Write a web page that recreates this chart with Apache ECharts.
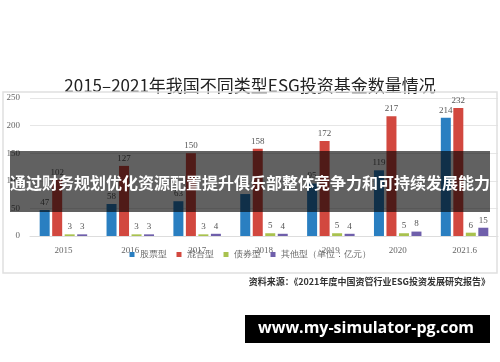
<!DOCTYPE html>
<html lang="zh-CN">
<head>
<meta charset="UTF-8">
<title>ESG投资基金数量</title>
<script src="https://cdn.jsdelivr.net/npm/echarts@6/dist/echarts.min.js"></script>
<style>
  body { margin: 0; padding: 0; background: #fff; }
  #main { width: 500px; height: 362px; }
</style>
</head>
<body>
<div id="main"></div>
<script>
// 数据
const years = ['2015', '2016', '2017', '2018', '2019', '2020', '2021.6'];
const seriesNames = ['股票型', '混合型', '债券型', '其他型（单位：亿元）'];
const stockFunds = [47, 58, 63, 76, 95, 119, 214];
const mixedFunds = [102, 127, 150, 158, 172, 217, 232];
const bondFunds = [3, 3, 3, 5, 5, 5, 6];
const otherFunds = [3, 3, 4, 4, 4, 8, 15];
const colors = ['#2a7fc1', '#d2483f', '#a9c24f', '#6f5fab'];

const chart = echarts.init(document.getElementById('main'));
const serif = 'Liberation Serif, serif';
const cjk = '"Noto Sans CJK SC", sans-serif';

const allData = [stockFunds, mixedFunds, bondFunds, otherFunds];
const series = allData.map((d, i) => ({
    name: seriesNames[i],
    type: 'bar',
    data: d,
    barWidth: 10,
    barGap: '25%',
    itemStyle: { color: colors[i] },
    label: {
        show: true,
        position: 'top',
        distance: 3,
        fontFamily: serif,
        fontSize: 9,
        color: '#555'
    }
}));

const option = {
    backgroundColor: '#fff',
    animation: false,
    title: {
        text: '2015–2021年我国不同类型ESG投资基金数量情况',
        left: 'center',
        top: 72,
        textStyle: { fontFamily: cjk, fontSize: 17, fontWeight: 'normal', color: '#222' }
    },
    legend: {
        bottom: 98,
        left: 'center',
        itemWidth: 5,
        itemHeight: 5,
        itemGap: 10,
        icon: 'rect',
        textStyle: { fontFamily: serif, fontSize: 9, color: '#666' },
        data: seriesNames
    },
    grid: { left: 30, right: 2, top: 98, bottom: 126 },
    xAxis: {
        type: 'category',
        data: years,
        axisLine: { lineStyle: { color: '#ddd' } },
        axisTick: { show: false },
        axisLabel: { fontFamily: serif, fontSize: 9, color: '#666', margin: 10 }
    },
    yAxis: {
        type: 'value',
        min: 0,
        max: 250,
        interval: 50,
        axisLabel: { fontFamily: serif, fontSize: 9, color: '#666', margin: 10 },
        splitLine: { lineStyle: { color: '#e6e6e6' } }
    },
    series: series,
    graphic: [
        {
            type: 'rect', z: 50, silent: true,
            shape: { x: 3, y: 92, width: 494, height: 181 },
            style: { fill: 'none', stroke: '#e0e0e0', lineWidth: 1.5 }
        },
        {
            type: 'text', z: 50, right: 10, top: 277,
            style: {
                text: '资料来源：《2021年度中国资管行业ESG投资发展研究报告》',
                font: 'bold 9px "Noto Sans CJK SC", sans-serif',
                fill: '#333'
            }
        },
        {
            type: 'rect', z: 100, silent: true,
            shape: { x: 10, y: 151, width: 480, height: 61 },
            style: { fill: 'rgba(0,0,0,0.62)' }
        },
        {
            type: 'text', z: 101, left: 'center', top: 175,
            style: {
                text: '通过财务规划优化资源配置提升俱乐部整体竞争力和可持续发展能力',
                font: 'bold 16px "Noto Sans CJK SC", sans-serif',
                fill: '#fff'
            }
        },
        {
            type: 'rect', z: 100, silent: true,
            shape: { x: 245, y: 315, width: 245, height: 28 },
            style: { fill: '#000' }
        },
        {
            type: 'text', z: 101, left: 258, top: 320,
            style: {
                text: 'www.my-simulator-pg.com',
                font: 'bold 16px "Open Sans", sans-serif',
                fill: '#fff'
            }
        }
    ]
};

chart.setOption(option);
</script>
</body>
</html>
